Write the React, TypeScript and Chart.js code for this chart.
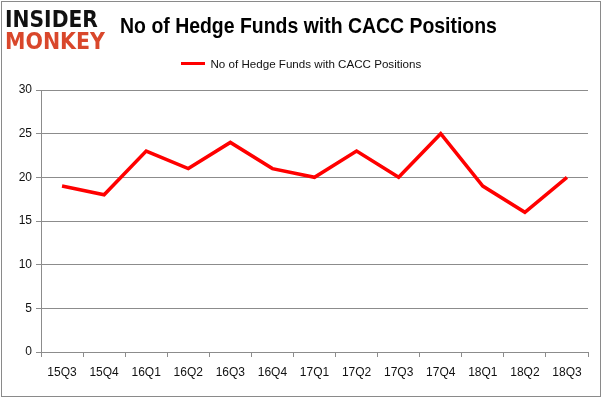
import React, { useEffect, useRef } from "react";
import { Chart, registerables } from "chart.js";
Chart.register(...registerables);

const categories = ["15Q3", "15Q4", "16Q1", "16Q2", "16Q3", "16Q4", "17Q1", "17Q2", "17Q3", "17Q4", "18Q1", "18Q2", "18Q3"];
const hedgeFunds = [19, 18, 23, 21, 24, 21, 20, 23, 20, 25, 19, 16, 20];
const yMin = 0;
const yMax = 30;
const yStep = 5;
const seriesLabel = "No of Hedge Funds with CACC Positions";
const chartTitle = "No of Hedge Funds with CACC Positions";
const logoTop = "INSIDER";
const logoBottom = "MONKEY";

const FONT = "'Liberation Sans', Arial, sans-serif";
const RED = "#ff0000";
const GRID = "#8c8c8c";

function fitText(
  ctx: CanvasRenderingContext2D,
  text: string,
  weight: string,
  family: string,
  width: number,
  x: number,
  y: number,
  align: CanvasTextAlign,
  color: string,
  scaleY = 1
) {
  ctx.save();
  ctx.font = `${weight} 20px ${family}`;
  const w = ctx.measureText(text).width;
  const size = (20 * width) / w;
  ctx.font = `${weight} ${size}px ${family}`;
  ctx.fillStyle = color;
  ctx.textAlign = align;
  ctx.textBaseline = "alphabetic";
  if (scaleY !== 1) {
    ctx.translate(x, y);
    ctx.scale(1, scaleY);
    ctx.fillText(text, 0, 0);
  } else {
    ctx.fillText(text, x, y);
  }
  ctx.restore();
}

const decorations = {
  id: "decorations",
  beforeDraw(chart: any) {
    const ctx = chart.ctx as CanvasRenderingContext2D;
    ctx.save();
    ctx.fillStyle = "#ffffff";
    ctx.fillRect(0, 0, chart.width, chart.height);
    ctx.restore();
  },
  afterDraw(chart: any) {
    const ctx = chart.ctx as CanvasRenderingContext2D;
    // frame
    ctx.save();
    ctx.strokeStyle = "#8a8a8a";
    ctx.lineWidth = 1;
    ctx.strokeRect(1.5, 1.5, 599, 395);
    ctx.restore();
    // logo
    fitText(ctx, logoTop, "900", "'DejaVu Sans', sans-serif", 93, 5, 27, "left", "#111111", 1.1);
    fitText(ctx, logoBottom, "900", "'DejaVu Sans', sans-serif", 100, 5, 49, "left", "#d9472b", 1.1);
    // title
    fitText(ctx, chartTitle, "bold", FONT, 377, 308.5, 33, "center", "#000000", 1.1);
    // legend
    ctx.save();
    ctx.strokeStyle = RED;
    ctx.lineWidth = 3;
    ctx.beginPath();
    ctx.moveTo(181, 63.5);
    ctx.lineTo(205, 63.5);
    ctx.stroke();
    ctx.restore();
    fitText(ctx, seriesLabel, "normal", FONT, 211, 210.5, 67.5, "left", "#111111");
  },
};

export default function App() {
  const ref = useRef<HTMLCanvasElement | null>(null);
  useEffect(() => {
    document.body.style.margin = "0";
    const canvas = ref.current!;
    const chart = new Chart(canvas, {
      type: "line",
      data: {
        labels: categories,
        datasets: [
          {
            label: seriesLabel,
            data: hedgeFunds,
            borderColor: RED,
            backgroundColor: RED,
            borderWidth: 3.5,
            pointRadius: 0,
            tension: 0,
          },
        ],
      },
      options: {
        responsive: false,
        animation: false,
        devicePixelRatio: 1,
        layout: { padding: { top: 90, left: 0, right: 14, bottom: 0 } },
        plugins: {
          legend: { display: false },
          title: { display: false },
          tooltip: { enabled: false },
        },
        scales: {
          x: {
            type: "category",
            offset: true,
            grid: {
              display: true,
              drawOnChartArea: false,
              drawTicks: true,
              tickLength: 5,
              color: GRID,
              offset: true,
            },
            border: { color: GRID, width: 1 },
            ticks: {
              color: "#111111",
              font: { family: FONT, size: 12 },
              padding: 8,
              maxRotation: 0,
              autoSkip: false,
            },
            afterFit(scale: any) {
              scale.height = 46;
            },
          },
          y: {
            min: yMin,
            max: yMax,
            ticks: {
              stepSize: yStep,
              color: "#111111",
              font: { family: FONT, size: 12 },
              padding: 4,
            },
            grid: { color: GRID, tickLength: 5, drawTicks: true },
            border: { color: GRID, width: 1 },
            afterFit(scale: any) {
              scale.width = 41;
            },
          },
        },
      },
      plugins: [decorations],
    });
    return () => chart.destroy();
  }, []);
  return <canvas ref={ref} width={602} height={398} style={{ display: "block" }} />;
}
